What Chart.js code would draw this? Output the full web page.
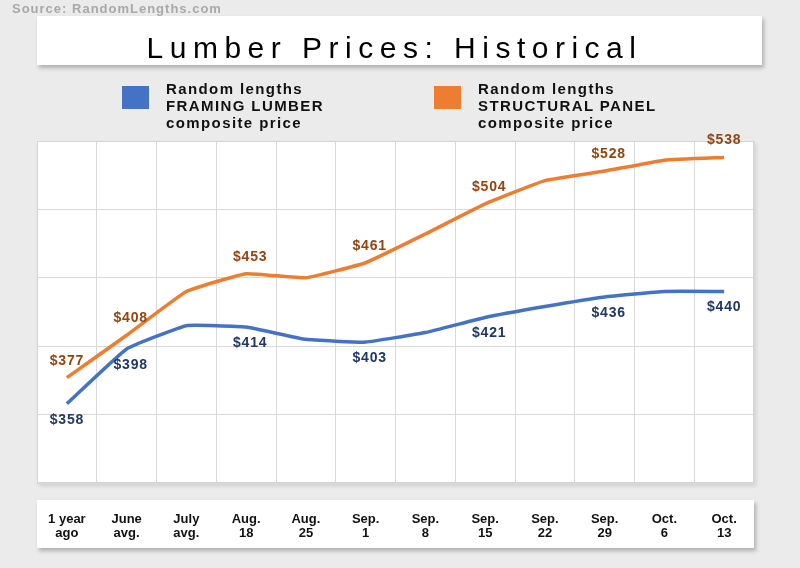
<!DOCTYPE html>
<html>
<head>
<meta charset="utf-8">
<script src="https://cdn.jsdelivr.net/npm/chart.js@4"></script>
<style>
  html, body { margin: 0; padding: 0; background: #ebebeb; width: 800px; height: 568px; overflow: hidden; font-family: "Liberation Sans", Arial, sans-serif; }
  #wrap { position: relative; width: 800px; height: 568px; }
  #lumberChart { position: absolute; left: 0; top: 0; }
  .source { position: absolute; left: 12px; top: 1px; z-index: 2; font-weight: bold; font-size: 13px; letter-spacing: 1px; color: #a8a8a8; }
  .title { position: absolute; left: 37px; top: 16px; width: 725px; height: 49px; background: #fff; box-shadow: 2px 3px 4px rgba(0, 0, 0, 0.25); }
  .title span { position: absolute; left: 0; right: 10px; top: 15px; text-align: center; font-size: 30px; line-height: 34px; letter-spacing: 6.5px; color: #000; }
  .swatch { position: absolute; width: 27px; height: 23px; top: 86px; }
  .legend-text { position: absolute; top: 80px; font-weight: bold; font-size: 15px; line-height: 17px; letter-spacing: 1.4px; white-space: nowrap; color: #111; }
</style>
</head>
<body>
<div id="wrap">
  <canvas id="lumberChart" width="800" height="568"></canvas>
  <div class="source">Source: RandomLengths.com</div>
  <div class="title"><span>Lumber Prices: Historical</span></div>
  <div id="legend"></div>
</div>
<script>
const categories = [
  ["1 year", "ago"], ["June", "avg."], ["July", "avg."], ["Aug.", "18"], ["Aug.", "25"], ["Sep.", "1"],
  ["Sep.", "8"], ["Sep.", "15"], ["Sep.", "22"], ["Sep.", "29"], ["Oct.", "6"], ["Oct.", "13"]
];
const framingLumber = [358, 398, 415, 414, 405, 403, 410, 421, 429, 436, 440, 440];
const structuralPanel = [377, 408, 440, 453, 450, 461, 482, 504, 521, 528, 536, 538];
const labeledPoints = [0, 1, 3, 5, 7, 9, 11];
const yTicks = [300, 350, 400, 450, 500, 550];

const FONT = '"Liberation Sans", Arial, sans-serif';

const datasets = [
  {
    label: "Random lengths\nFRAMING LUMBER\ncomposite price",
    data: framingLumber,
    borderColor: "#4472c4",
    backgroundColor: "#4472c4",
    labelColor: "#1f3864",
    labelOffset: 16
  },
  {
    label: "Random lengths\nSTRUCTURAL PANEL\ncomposite price",
    data: structuralPanel,
    borderColor: "#ed7d31",
    backgroundColor: "#ed7d31",
    labelColor: "#934510",
    labelOffset: -17
  }
];

// html legend built from the datasets
const legendEl = document.getElementById('legend');
const legendX = [122, 434];
datasets.forEach((ds, i) => {
  const sw = document.createElement('div');
  sw.className = 'swatch';
  sw.style.left = legendX[i] + 'px';
  sw.style.background = ds.borderColor;
  const tx = document.createElement('div');
  tx.className = 'legend-text';
  tx.style.left = (legendX[i] + 44) + 'px';
  tx.innerHTML = ds.label.split('\n').join('<br>');
  legendEl.appendChild(sw);
  legendEl.appendChild(tx);
});

const panels = {
  id: 'panels',
  beforeDraw(chart) {
    const { ctx, chartArea: a } = chart;
    ctx.save();
    // white box behind x labels
    ctx.shadowColor = 'rgba(0, 0, 0, 0.25)';
    ctx.shadowBlur = 4;
    ctx.shadowOffsetX = 2;
    ctx.shadowOffsetY = 3;
    ctx.fillStyle = '#ffffff';
    ctx.fillRect(a.left, a.bottom + 17, a.right - a.left, 48);
    ctx.shadowColor = 'rgba(0, 0, 0, 0.12)';
    ctx.fillRect(a.left, a.top, a.right - a.left, a.bottom - a.top);
    ctx.restore();
  },
  beforeDatasetsDraw(chart) {
    const { ctx, chartArea: a } = chart;
    ctx.save();
    ctx.strokeStyle = '#d4d4d4';
    ctx.lineWidth = 1;
    ctx.strokeRect(a.left + 0.5, a.top + 0.5, a.right - a.left - 1, a.bottom - a.top - 1);
    ctx.restore();
  },
  afterDatasetsDraw(chart) {
    const { ctx } = chart;
    ctx.save();
    ctx.font = 'bold 14px ' + FONT;
    ctx.letterSpacing = '0.8px';
    ctx.textAlign = 'center';
    ctx.textBaseline = 'middle';
    chart.data.datasets.forEach((ds, i) => {
      const meta = chart.getDatasetMeta(i);
      ctx.fillStyle = ds.labelColor;
      labeledPoints.forEach(idx => {
        const pt = meta.data[idx];
        const edge = idx === 0 || idx === ds.data.length - 1;
        ctx.fillText('$' + ds.data[idx], pt.x + (edge ? 0 : 4), pt.y + ds.labelOffset);
      });
    });
    ctx.restore();
  }
};

new Chart(document.getElementById('lumberChart'), {
  type: 'line',
  data: {
    labels: categories,
    datasets: datasets.map(ds => ({
      ...ds,
      borderWidth: 3.5,
      pointRadius: 0,
      tension: 0.1,
      fill: false
    }))
  },
  options: {
    responsive: false,
    animation: false,
    layout: { padding: { top: 141, left: 37, right: 46, bottom: 27 } },
    scales: {
      x: {
        offset: true,
        afterFit: s => { s.height = 58; },
        grid: { offset: true, color: '#d9d9d9', drawTicks: false },
        border: { display: false },
        ticks: {
          color: '#111',
          autoSkip: false,
          maxRotation: 0,
          padding: 29,
          font: { family: FONT, size: 13, weight: 'bold', lineHeight: 1.1 }
        }
      },
      y: {
        min: 300,
        max: 550,
        afterBuildTicks: s => { s.ticks = yTicks.map(v => ({ value: v })); },
        grid: { color: '#d9d9d9', drawTicks: false },
        border: { display: false },
        ticks: { display: false }
      }
    },
    plugins: {
      legend: { display: false },
      title: { display: false },
      tooltip: { enabled: false }
    }
  },
  plugins: [panels]
});
</script>
</body>
</html>
